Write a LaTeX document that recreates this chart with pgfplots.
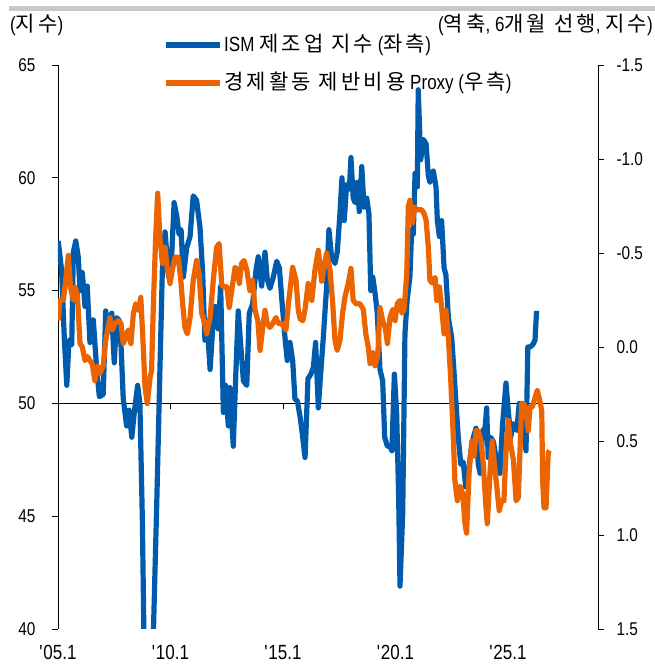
\documentclass[border=0pt]{standalone}
\usepackage{pgfplots}
\pgfplotsset{compat=1.18}
\usepackage{pgfplotstable}
\usepackage{fontspec}
\setmainfont{Liberation Sans}[FakeStretch=0.83]
\newfontfamily\kr{Noto Sans CJK KR}[LetterSpace=15]
\usetikzlibrary{calc}
\definecolor{ismblue}{RGB}{0,91,172}
\definecolor{proxyorange}{RGB}{235,100,0}
\definecolor{topgrey}{RGB}{200,200,200}
\newcommand{\fs}{\fontsize{20.5bp}{24bp}\selectfont}
\newcommand{\ts}{\fontsize{18.5bp}{22bp}\selectfont}
\newcommand{\krs}{\kr\fontsize{21bp}{24bp}\selectfont}

\pgfplotstableread{
x y
2005.01 57.2
2005.16 55.9
2005.28 52.9
2005.39 50.8
2005.49 52.8
2005.61 52.6
2005.68 56.7
2005.79 57.2
2005.90 56.5
2005.98 55.0
2006.08 55.8
2006.20 54.3
2006.30 55.2
2006.42 52.7
2006.57 53.7
2006.72 51.5
2006.84 50.3
2007.01 50.4
2007.12 54.1
2007.24 53.3
2007.39 54.0
2007.50 51.8
2007.61 53.8
2007.71 53.7
2007.80 52.6
2007.90 50.2
2008.05 49.0
2008.16 49.7
2008.28 48.5
2008.39 49.6
2008.54 50.8
2008.64 50.0
2008.75 44.8
2008.91 33.0
2009.00 34.5
2009.09 35.5
2009.18 37.5
2009.27 41.0
2009.39 45.6
2009.53 51.5
2009.64 56.0
2009.76 57.6
2009.86 56.3
2009.98 55.6
2010.05 56.5
2010.16 58.9
2010.28 58.3
2010.38 57.5
2010.47 57.7
2010.57 55.6
2010.72 56.9
2010.87 57.4
2011.01 59.2
2011.16 59.0
2011.31 57.8
2011.43 55.8
2011.53 52.8
2011.64 53.4
2011.76 51.5
2011.88 53.4
2011.98 54.3
2012.12 53.3
2012.23 55.2
2012.35 49.6
2012.45 50.8
2012.57 49.0
2012.64 50.7
2012.79 48.1
2012.91 51.5
2013.01 54.1
2013.12 52.6
2013.24 51.0
2013.39 50.8
2013.50 54.0
2013.65 54.4
2013.80 55.9
2013.90 56.5
2014.05 55.2
2014.20 56.7
2014.30 55.5
2014.42 55.1
2014.57 55.6
2014.72 56.3
2014.84 56.0
2014.94 54.7
2015.09 52.9
2015.19 51.9
2015.31 52.7
2015.43 51.9
2015.53 50.2
2015.64 50.1
2015.76 49.4
2015.84 48.8
2015.98 47.6
2016.11 51.1
2016.24 51.3
2016.35 51.6
2016.45 52.7
2016.57 49.8
2016.68 51.4
2016.79 52.9
2016.94 55.2
2017.04 57.7
2017.16 56.5
2017.31 56.2
2017.41 56.7
2017.53 58.4
2017.62 60.0
2017.72 58.1
2017.83 59.7
2017.95 59.5
2018.02 60.9
2018.12 59.1
2018.20 58.9
2018.30 59.8
2018.39 58.5
2018.50 60.5
2018.60 58.7
2018.72 59.1
2018.82 58.4
2018.90 55.0
2018.99 55.6
2019.09 54.9
2019.19 54.0
2019.31 51.5
2019.43 51.0
2019.52 48.5
2019.64 48.1
2019.76 48.1
2019.84 47.9
2019.95 51.3
2020.05 49.6
2020.14 45.9
2020.20 41.9
2020.32 45.1
2020.42 53.1
2020.52 54.6
2020.64 55.6
2020.72 57.7
2020.79 57.5
2020.87 60.2
2020.97 59.6
2021.01 63.9
2021.12 60.8
2021.24 61.7
2021.36 61.5
2021.46 60.1
2021.53 59.8
2021.68 60.3
2021.80 59.6
2021.86 58.1
2021.95 57.4
2022.05 58.1
2022.16 56.0
2022.24 55.7
2022.35 53.8
2022.50 52.9
2022.60 51.4
2022.69 50.0
2022.79 48.5
2022.90 47.3
2023.01 47.4
2023.12 46.3
2023.24 46.9
2023.34 47.8
2023.46 48.5
2023.58 48.9
2023.68 47.3
2023.76 46.9
2023.88 48.8
2023.98 48.9
2024.05 49.8
2024.12 47.6
2024.23 48.5
2024.35 48.3
2024.50 47.4
2024.64 46.9
2024.76 49.1
2024.91 50.9
2025.01 49.7
2025.12 48.5
2025.24 49.1
2025.39 48.8
2025.50 50.0
2025.61 49.7
2025.71 48.7
2025.80 47.9
2025.88 52.5
2025.98 52.5
2026.10 52.6
2026.20 52.8
2026.27 54.1
}\ismdata

\pgfplotstableread{
x y
2005.01 -0.141
2005.09 -0.248
2005.24 -0.25
2005.34 -0.354
2005.46 -0.487
2005.56 -0.317
2005.68 -0.25
2005.76 -0.317
2005.86 -0.28
2005.98 -0.018
2006.08 0.0
2006.20 0.072
2006.30 0.05
2006.42 0.072
2006.52 0.09
2006.64 0.179
2006.76 0.1
2006.87 0.14
2007.01 0.1
2007.12 -0.035
2007.24 -0.11
2007.31 -0.157
2007.41 -0.09
2007.53 -0.125
2007.68 -0.14
2007.80 -0.125
2007.90 -0.018
2008.01 -0.05
2008.12 -0.09
2008.24 -0.018
2008.35 -0.178
2008.45 -0.23
2008.57 -0.195
2008.68 -0.264
2008.79 0.0
2008.87 0.216
2008.97 0.301
2009.09 0.163
2009.16 0.125
2009.24 -0.23
2009.34 -0.583
2009.43 -0.818
2009.53 -0.583
2009.64 -0.445
2009.76 -0.53
2009.86 -0.41
2009.98 -0.338
2010.08 -0.41
2010.20 -0.477
2010.35 -0.477
2010.47 -0.338
2010.54 -0.23
2010.64 -0.104
2010.75 -0.07
2010.87 -0.157
2011.01 -0.354
2011.16 -0.46
2011.27 -0.39
2011.39 -0.178
2011.49 -0.14
2011.61 -0.07
2011.76 -0.157
2011.90 -0.354
2012.05 -0.53
2012.16 -0.55
2012.28 -0.33
2012.38 -0.32
2012.50 -0.32
2012.61 -0.21
2012.72 -0.3
2012.87 -0.424
2012.97 -0.41
2013.06 -0.338
2013.16 -0.445
2013.27 -0.46
2013.39 -0.41
2013.53 -0.3
2013.65 -0.354
2013.76 -0.195
2013.88 -0.14
2013.98 0.018
2014.10 -0.104
2014.20 -0.195
2014.30 -0.125
2014.42 -0.104
2014.54 -0.125
2014.69 -0.157
2014.79 -0.125
2014.94 -0.125
2015.13 -0.09
2015.24 -0.23
2015.43 -0.424
2015.58 -0.354
2015.68 -0.195
2015.76 -0.15
2015.88 -0.14
2015.98 -0.2
2016.12 -0.338
2016.28 -0.248
2016.42 -0.41
2016.57 -0.514
2016.72 -0.35
2016.82 -0.42
2016.94 -0.5
2017.09 -0.41
2017.21 -0.23
2017.31 -0.035
2017.41 0.018
2017.53 -0.035
2017.65 -0.18
2017.76 -0.27
2017.90 -0.338
2018.02 -0.418
2018.12 -0.248
2018.24 -0.23
2018.42 -0.23
2018.57 -0.2
2018.68 -0.07
2018.79 0.0
2018.87 0.088
2018.99 0.03
2019.09 0.1
2019.21 0.05
2019.31 -0.21
2019.43 -0.14
2019.55 -0.1
2019.64 -0.018
2019.76 -0.16
2019.88 -0.2
2019.98 -0.14
2020.08 -0.23
2020.20 -0.248
2020.29 -0.18
2020.38 -0.2
2020.50 -0.39
2020.57 -0.745
2020.64 -0.78
2020.75 -0.66
2020.84 -0.745
2020.94 -0.73
2021.06 -0.73
2021.16 -0.73
2021.27 -0.71
2021.36 -0.674
2021.46 -0.53
2021.53 -0.354
2021.65 -0.34
2021.76 -0.37
2021.83 -0.248
2021.95 -0.32
2022.05 -0.21
2022.16 -0.07
2022.24 -0.195
2022.35 -0.05
2022.45 0.163
2022.57 0.48
2022.64 0.71
2022.75 0.818
2022.87 0.74
2022.99 0.78
2023.09 0.94
2023.16 0.99
2023.27 0.67
2023.39 0.50
2023.49 0.58
2023.58 0.445
2023.68 0.445
2023.80 0.5
2023.90 0.62
2024.01 0.834
2024.08 0.94
2024.20 0.67
2024.30 0.5
2024.39 0.62
2024.50 0.74
2024.61 0.87
2024.72 0.818
2024.82 0.818
2024.91 0.55
2025.01 0.39
2025.12 0.52
2025.24 0.6
2025.36 0.818
2025.46 0.8
2025.53 0.56
2025.61 0.30
2025.71 0.30
2025.80 0.34
2025.90 0.445
2025.98 0.32
2026.08 0.32
2026.20 0.27
2026.30 0.23
2026.42 0.29
2026.50 0.34
2026.54 0.71
2026.60 0.855
2026.69 0.855
2026.79 0.56
2026.84 0.55
}\proxydata

\begin{document}
\begin{tikzpicture}
\begin{axis}[name=ax1,
  scale only axis, width=540bp, height=564bp,
  xmin=2005, xmax=2029, ymin=40, ymax=65,
  axis y line=left, axis x line=bottom,
  x axis line style={draw=none},
  axis line style={-, line width=0.8bp},
  every outer y axis line/.append style={-},
  every outer x axis line/.append style={-},
  xtick={2005,2010,2015,2020,2025},
  xticklabels={\textquotesingle05.1,\textquotesingle10.1,\textquotesingle15.1,\textquotesingle20.1,\textquotesingle25.1},
  xtick style={draw=none},
  xticklabel style={font=\fs, yshift=-7bp},
  ytick={40,45,50,55,60,65},
  yticklabels={40,45,50,55,60,65},
  yticklabel style={font=\ts, xshift=-13bp},
  tick align=outside, major tick length=6bp,
  ytick style={line width=0.8bp, black},
  clip mode=individual,
]
\draw[line width=1bp] (axis cs:2005,50) -- (axis cs:2029,50);
\draw[line width=1bp] (axis cs:2010,50) -- (axis cs:2010,49.73);
\draw[line width=1bp] (axis cs:2015,50) -- (axis cs:2015,49.73);
\draw[line width=1bp] (axis cs:2020,50) -- (axis cs:2020,49.73);
\draw[line width=1bp] (axis cs:2025,50) -- (axis cs:2025,49.73);
\addplot[ismblue, line width=5.2bp, line join=round, no markers] table[x=x,y=y] {\ismdata};
\end{axis}
\begin{axis}[
  scale only axis, width=540bp, height=564bp,
  xmin=2005, xmax=2029, ymin=-1.5, ymax=1.5, y dir=reverse,
  axis y line=right, axis x line=bottom,
  x axis line style={draw=none}, xtick=\empty,
  axis line style={-, line width=0.8bp},
  every outer y axis line/.append style={-},
  every outer x axis line/.append style={-},
  ytick={-1.5,-1,-0.5,0,0.5,1,1.5},
  yticklabels={-1.5,-1.0,-0.5,0.0,0.5,1.0,1.5},
  yticklabel style={font=\ts, xshift=9bp},
  tick align=outside, major tick length=6bp,
  ytick style={line width=0.8bp, black},
  clip mode=individual,
]
\addplot[proxyorange, line width=5.2bp, line join=round, no markers] table[x=x,y=y] {\proxydata};
\draw[ismblue, line width=5.5bp] (axis description cs:0.2,1.0355) -- (axis description cs:0.3,1.0355);
\node[anchor=west, inner sep=0pt, font=\fs] at (axis description cs:0.3074,1.0355) {ISM {\krs 제조업 지수} ({\krs 좌측})};
\draw[proxyorange, line width=5.5bp] (axis description cs:0.2,0.968) -- (axis description cs:0.3,0.968);
\node[anchor=west, inner sep=0pt, font=\fs] at (axis description cs:0.3074,0.968) {{\krs 경제활동 제반비용} Proxy ({\krs 우측})};
\node[anchor=west, inner sep=0pt, font=\fs] at (axis description cs:-0.0889,1.071) {({\krs 지수})};
\node[anchor=east, inner sep=0pt, font=\fs] at (axis description cs:1.1019,1.071) {({\krs 역축}, 6{\krs 개월 선행}, {\krs 지수})};
\draw[topgrey, line width=5bp] (axis description cs:-0.0907,1.0993) -- (axis description cs:1.1056,1.0993);
\end{axis}
\pgfresetboundingbox
\path[use as bounding box] ($(ax1.south west)+(-58bp,-35bp)$) rectangle ($(ax1.north east)+(57bp,65bp)$);
\end{tikzpicture}
\end{document}
